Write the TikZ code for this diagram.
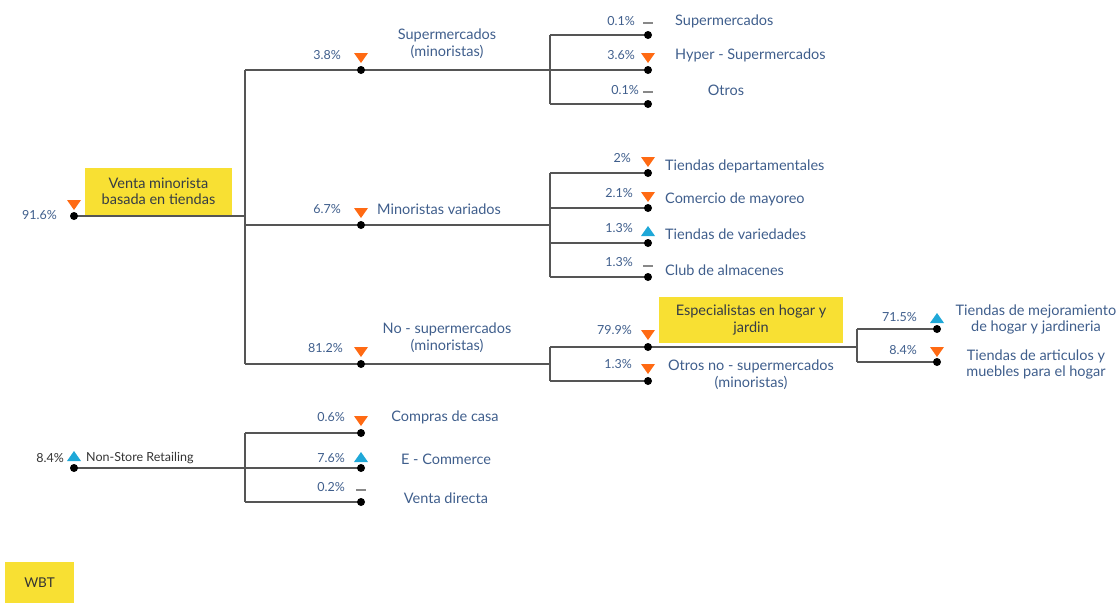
\documentclass[tikz,border=0pt]{standalone}
\usepackage{fontspec}
\setmainfont{Lato}
\usetikzlibrary{backgrounds}
\definecolor{txt}{HTML}{3F5E8C}
\definecolor{dark}{HTML}{333333}
\definecolor{linegray}{HTML}{555555}
\definecolor{tor}{HTML}{FF6A13}
\definecolor{tbl}{HTML}{1FA8D8}
\definecolor{dsh}{HTML}{888888}
\definecolor{ylw}{HTML}{F8E033}
\begin{document}
\begin{tikzpicture}[x=1pt,y=-1pt,
  dot/.style={circle,fill=black,inner sep=0pt,minimum size=8pt},
  con/.style={draw=linegray,line width=1.3pt},
  pct/.style={text=txt,font=\fontsize{12.5}{14}\selectfont,anchor=east,inner sep=0pt,yshift=-1pt},
  lbl/.style={text=txt,font=\fontsize{14.5}{16.5}\selectfont,inner sep=0pt,align=center,yshift=-1.5pt},
  ybox/.style={fill=ylw,text=dark!80!txt,font=\fontsize{14.5}{16.5}\selectfont,align=center,inner sep=0pt},
  tdown/.pic={\fill[tor] (-7,-5)--(7,-5)--(0,5)--cycle;},
  tup/.pic={\fill[tbl] (-7,5)--(7,5)--(0,-5)--cycle;},
  tdash/.pic={\fill[dsh] (-5,-1.2) rectangle (5,1.2);}
]
\useasboundingbox (0,0) rectangle (1120,603);
% junction x positions
\coordinate (j1) at (245,0);
\coordinate (j2) at (550,0);
\coordinate (j3) at (857,0);
% dots
\node[dot] (root) at (74,216) {};
\node[dot] (s1) at (361,70) {};
\node[dot] (s2) at (361,225) {};
\node[dot] (s3) at (361,364) {};
\node[dot] (a1) at (648,35) {};
\node[dot] (a2) at (648,70) {};
\node[dot] (a3) at (648,104) {};
\node[dot] (b1) at (648,173) {};
\node[dot] (b2) at (648,208) {};
\node[dot] (b3) at (648,243) {};
\node[dot] (b4) at (648,277) {};
\node[dot] (c1) at (648,347) {};
\node[dot] (c2) at (648,381) {};
\node[dot] (d1) at (937,329) {};
\node[dot] (d2) at (937,362) {};
\node[dot] (ns) at (74,468) {};
\node[dot] (e1) at (361,433) {};
\node[dot] (e2) at (361,468) {};
\node[dot] (e3) at (361,502) {};
\begin{scope}[on background layer]
\draw[con] (root.center) -- (root -| j1);
\draw[con] (s1 -| j1) -- (s3 -| j1);
\draw[con] (s1 -| j1) -- (a2.center);
\draw[con] (s2 -| j1) -- (s2 -| j2);
\draw[con] (s3 -| j1) -- (s3 -| j2);
\draw[con] (a1 -| j2) -- (a3 -| j2);
\draw[con] (a1 -| j2) -- (a1.center);
\draw[con] (a3 -| j2) -- (a3.center);
\draw[con] (b1 -| j2) -- (b4 -| j2);
\draw[con] (b1 -| j2) -- (b1.center);
\draw[con] (b2 -| j2) -- (b2.center);
\draw[con] (b3 -| j2) -- (b3.center);
\draw[con] (b4 -| j2) -- (b4.center);
\draw[con] (c1 -| j2) -- (c2 -| j2);
\draw[con] (c1 -| j2) -- (c1 -| j3);
\draw[con] (c2 -| j2) -- (c2.center);
\draw[con] (d1 -| j3) -- (d2 -| j3);
\draw[con] (d1 -| j3) -- (d1.center);
\draw[con] (d2 -| j3) -- (d2.center);
\draw[con] (ns.center) -- (e2.center);
\draw[con] (e1 -| j1) -- (e3 -| j1);
\draw[con] (e1 -| j1) -- (e1.center);
\draw[con] (e3 -| j1) -- (e3.center);
\end{scope}
% markers
\pic at (74,205) {tdown};
\pic at (361,58) {tdown};
\pic at (361,213) {tdown};
\pic at (361,352) {tdown};
\pic at (648,23) {tdash};
\pic at (648,58) {tdown};
\pic at (648,92) {tdash};
\pic at (648,162) {tdown};
\pic at (648,197) {tdown};
\pic at (648,231) {tup};
\pic at (648,266) {tdash};
\pic at (648,335) {tdown};
\pic at (648,369) {tdown};
\pic at (937,318) {tup};
\pic at (937,352) {tdown};
\pic at (74,456) {tup};
\pic at (361,421) {tdown};
\pic at (361,457) {tup};
\pic at (361,490) {tdash};
% yellow boxes
\node[ybox,minimum width=147pt,minimum height=47pt] (yb1) at (158.5,191.5) {Venta minorista\\basada en tiendas};
\node[ybox,minimum width=184pt,minimum height=46pt] (yb2) at (751,320) {Especialistas en hogar y\\jardin};
\node[ybox,text=dark,font=\fontsize{13.5}{16}\selectfont,minimum width=69pt,minimum height=41pt] (yb3) at (39.5,582.5) {WBT};
% percentages
\node[pct] (p0) at (57,214) {91.6\%};
\node[pct] (p1) at (341,54) {3.8\%};
\node[pct] (p2) at (341,208) {6.7\%};
\node[pct] (p3) at (343,347) {81.2\%};
\node[pct] (pa1) at (635,20) {0.1\%};
\node[pct] (pa2) at (635,54) {3.6\%};
\node[pct] (pa3) at (639,89) {0.1\%};
\node[pct] (pb1) at (631,157) {2\%};
\node[pct] (pb2) at (633,192) {2.1\%};
\node[pct] (pb3) at (633,227) {1.3\%};
\node[pct] (pb4) at (633,261) {1.3\%};
\node[pct] (pc1) at (632,329) {79.9\%};
\node[pct] (pc2) at (632,363) {1.3\%};
\node[pct] (pd1) at (917,316) {71.5\%};
\node[pct] (pd2) at (917,349) {8.4\%};
\node[pct,text=dark] (pn) at (64,457) {8.4\%};
\node[pct] (pe1) at (345,416) {0.6\%};
\node[pct] (pe2) at (345,457) {7.6\%};
\node[pct] (pe3) at (345,486) {0.2\%};
% labels
\node[lbl] (l1) at (447,42) {Supermercados\\(minoristas)};
\node[lbl,anchor=west] (l2) at (377,208) {Minoristas variados};
\node[lbl] (l3) at (447,336) {No - supermercados\\(minoristas)};
\node[lbl,anchor=west] (la1) at (675,20) {Supermercados};
\node[lbl,anchor=west] (la2) at (675,54) {Hyper - Supermercados};
\node[lbl] (la3) at (726,89) {Otros};
\node[lbl,anchor=west] (lb1) at (665,165) {Tiendas departamentales};
\node[lbl,anchor=west] (lb2) at (665,198) {Comercio de mayoreo};
\node[lbl,anchor=west] (lb3) at (665,233) {Tiendas de variedades};
\node[lbl,anchor=west] (lb4) at (665,269) {Club de almacenes};
\node[lbl] (lc2) at (751,373) {Otros no - supermercados\\(minoristas)};
\node[lbl] (ld1) at (1036,318) {Tiendas de mejoramiento\\de hogar y jardineria};
\node[lbl] (ld2) at (1036,363) {Tiendas de articulos y\\muebles para el hogar};
\node[lbl,text=dark,font=\fontsize{12.5}{14}\selectfont,anchor=west] (ln) at (86,457) {Non-Store Retailing};
\node[lbl] (le1) at (445,416) {Compras de casa};
\node[lbl] (le2) at (446,458) {E - Commerce};
\node[lbl] (le3) at (446,497) {Venta directa};
\end{tikzpicture}
\end{document}
